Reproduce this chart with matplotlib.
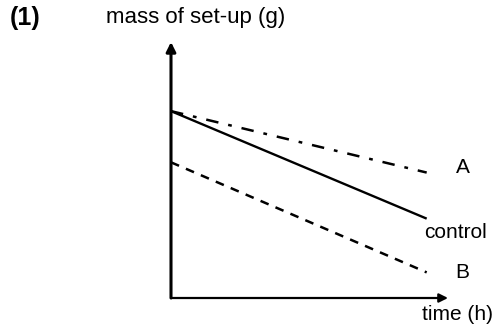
import matplotlib
matplotlib.use("Agg")
import matplotlib.pyplot as plt

# ---- data ----
series_names = ["A", "control", "B"]
time_points = [0, 12]
mass_A = [7.3, 4.9]
mass_control = [7.3, 3.1]
mass_B = [5.3, 1.0]
x_label = "time (h)"
y_label = "mass of set-up (g)"
panel_label = "(1)"

plt.rcParams["font.family"] = ["Liberation Sans", "DejaVu Sans"]

W, H = 498, 333
fig = plt.figure(figsize=(W / 100, H / 100), dpi=100)
fig.patch.set_facecolor("white")

def fx(px):
    return px / W

def fy(py):
    return 1 - py / H

ax = fig.add_axes([fx(171), fy(298), fx(448) - fx(171), fy(42) - fy(298)])
ax.set_xlim(0, 13)
ax.set_ylim(0, 10)
for s in ax.spines.values():
    s.set_visible(False)
ax.set_xticks([])
ax.set_yticks([])
ax.patch.set_alpha(0)

# axes with arrows
ax.annotate("", xy=(0, 1), xytext=(0, 0), xycoords="axes fraction",
            arrowprops=dict(arrowstyle="-|>", lw=2.2, color="black", mutation_scale=14,
                            shrinkA=0, shrinkB=0))
ax.annotate("", xy=(1, 0), xytext=(0, 0), xycoords="axes fraction",
            arrowprops=dict(arrowstyle="-|>", lw=1.6, color="black", mutation_scale=13,
                            shrinkA=0, shrinkB=0))

ax.plot(time_points, mass_control, color="black", lw=1.7, solid_capstyle="butt")
ax.plot(time_points, mass_A, color="black", lw=1.8, dashes=(5, 4, 1.5, 4))
ax.plot(time_points, mass_B, color="black", lw=1.8, dashes=(3.5, 3))

offsets = {"A": (36, 5), "control": (29, -14), "B": (36, 0)}
vals = {"A": mass_A, "control": mass_control, "B": mass_B}
for name in series_names:
    ax.annotate(name, xy=(time_points[-1], vals[name][-1]), xytext=offsets[name],
                textcoords="offset pixels", ha="center", va="center",
                fontsize=15, color="black")

fig.text(fx(196), fy(17), y_label, ha="center", va="center", fontsize=16, color="black")
fig.text(fx(457), fy(315), x_label, ha="center", va="center", fontsize=15, color="black")
fig.text(fx(25), fy(18), panel_label, ha="center", va="center", fontsize=18,
         fontweight="bold", color="black")

fig.savefig("out.png", dpi=100, facecolor="white")
